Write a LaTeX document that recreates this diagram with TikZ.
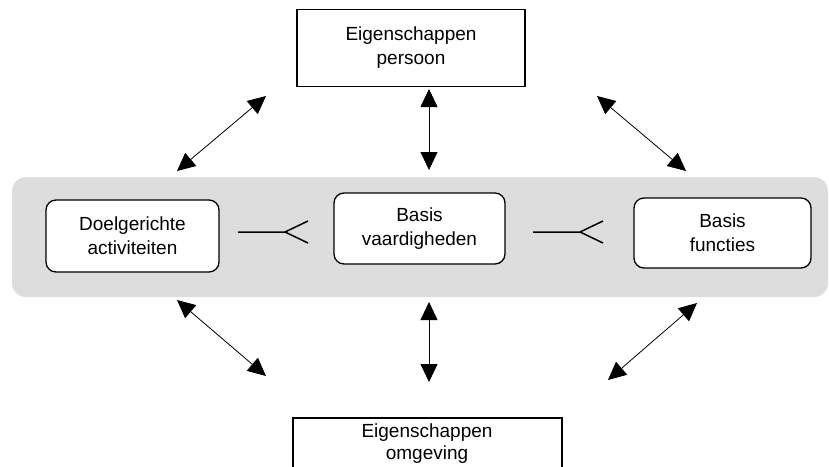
\documentclass[tikz,border=0pt]{standalone}
\usepackage{fontspec}
\setmainfont{Liberation Sans}
\usetikzlibrary{arrows.meta}
\definecolor{band}{HTML}{DDDDDD}
\begin{document}
\begin{tikzpicture}[x=1pt,y=-1pt,
  txt/.style={font=\fontsize{19}{24}\selectfont, align=center},
  sqbox/.style={txt, draw, line width=1.3pt, inner sep=0pt},
  rbox/.style={txt, draw, line width=1.3pt, rounded corners=10pt, fill=white, inner sep=0pt},
  dbl/.style={{Triangle[length=18pt,width=17pt]}-{Triangle[length=18pt,width=17pt]}, line width=0.8pt},
  fork/.style={line width=1.5pt}]
\useasboundingbox (0,0) rectangle (829,466);
\fill[band, rounded corners=14pt] (12,177) rectangle (828,297);
% top box
\node[sqbox, minimum width=228pt, minimum height=77pt] (top) at (411,48) {Eigenschappen\\persoon};
% bottom box (cut off at bottom)
\node[txt, font=\fontsize{19}{22}\selectfont, inner sep=0pt] (bot) at (427,444) {Eigenschappen\\omgeving};
\draw[line width=1.3pt] (293,470) -- (293,418) -- (562,418) -- (562,470);
% rounded boxes
\node[rbox, minimum width=173pt, minimum height=72pt] (left) at (132.5,236) {Doelgerichte\\activiteiten};
\node[rbox, minimum width=171pt, minimum height=71pt] (mid) at (419.5,228.5) {Basis\\vaardigheden};
\node[rbox, minimum width=177pt, minimum height=70pt] (right) at (722.5,233) {Basis\\functies};
% arrow end points
\coordinate (a1s) at (177,171); \coordinate (a1e) at (266,96);
\coordinate (a2s) at (429,89);  \coordinate (a2e) at (429,170);
\coordinate (a3s) at (597,96);  \coordinate (a3e) at (686,171);
\coordinate (b1s) at (177,300); \coordinate (b1e) at (266,376);
\coordinate (b2s) at (429,302); \coordinate (b2e) at (429,382);
\coordinate (b3s) at (697,303); \coordinate (b3e) at (608,380);
\draw[dbl] (a1s) -- (a1e);
\draw[dbl] (a2s) -- (a2e);
\draw[dbl] (a3s) -- (a3e);
\draw[dbl] (b1s) -- (b1e);
\draw[dbl] (b2s) -- (b2e);
\draw[dbl] (b3s) -- (b3e);
% forks
\coordinate (f1a) at (238,232); \coordinate (f1j) at (285,232);
\coordinate (f1u) at (308,221); \coordinate (f1d) at (308,243);
\draw[fork] (f1a) -- (f1j) -- (f1u) (f1j) -- (f1d);
\coordinate (f2a) at (533,232); \coordinate (f2j) at (580,232);
\coordinate (f2u) at (603,221); \coordinate (f2d) at (603,243);
\draw[fork] (f2a) -- (f2j) -- (f2u) (f2j) -- (f2d);
\end{tikzpicture}
\end{document}
